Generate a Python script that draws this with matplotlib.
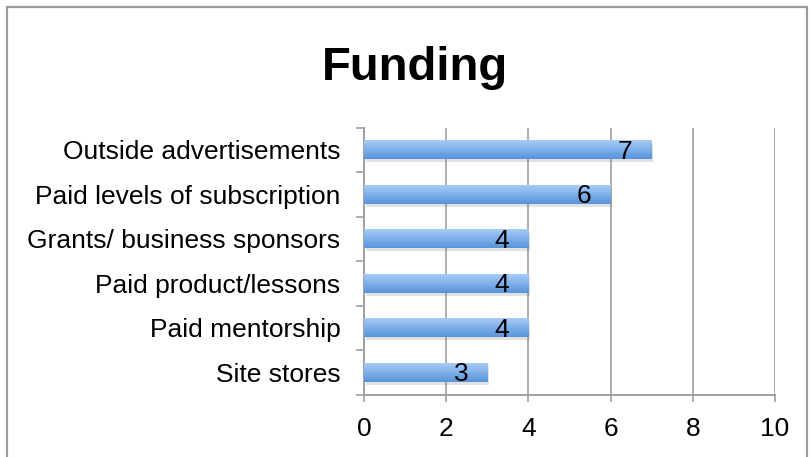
import numpy as np
import matplotlib
matplotlib.use("Agg")
import matplotlib.pyplot as plt
from matplotlib import patheffects as pe
from matplotlib.colors import LinearSegmentedColormap
from matplotlib.patches import Rectangle

categories = ["Outside advertisements", "Paid levels of subscription",
              "Grants/ business sponsors", "Paid product/lessons",
              "Paid mentorship", "Site stores"]
values = [7, 6, 4, 4, 4, 3]
x_ticks = [0, 2, 4, 6, 8, 10]
title = "Funding"

plt.rcParams['font.family'] = ['Liberation Sans', 'DejaVu Sans']

W, H = 810, 457
fig = plt.figure(figsize=(W/100, H/100), dpi=100)
fig.patch.set_facecolor('white')

# outer border
fig.add_artist(Rectangle((6.5/W, -0.05), (807-6.5)/W, 1.05 - 6.5/H,
                         transform=fig.transFigure, fill=False,
                         edgecolor='#9a9a9a', linewidth=1.6))

ax = fig.add_axes([364/W, 1-394.5/H, (775-364)/W, (394.5-127.5)/H])

n = len(categories)
ypos = np.arange(n)[::-1]
grey = '#a0a0a0'

bars = ax.barh(ypos, values, height=0.43, color='#7fb1ea', zorder=3,
               edgecolor='none',
               path_effects=[pe.SimplePatchShadow(offset=(1.2, -2.0), shadow_rgbFace='#777777', alpha=0.22),
                             pe.Normal()])

cmap = LinearSegmentedColormap.from_list('g', ['#5893da', '#abcff9'])
grad = np.linspace(0, 1, 64).reshape(-1, 1)
for b in bars:
    x0, y0 = b.get_x(), b.get_y()
    w, h = b.get_width(), b.get_height()
    im = ax.imshow(grad, cmap=cmap, aspect='auto', origin='lower',
                   extent=[x0, x0 + w, y0, y0 + h], zorder=3.5)
    im.set_clip_path(b)

for b, v in zip(bars, values):
    ax.annotate(str(v), xy=(b.get_x() + b.get_width(), b.get_y() + b.get_height()/2),
                xytext=(-19, -1.5), textcoords='offset points',
                ha='center', va='center', fontsize=19, color='black', zorder=5)

ax.set_xlim(0, 10)
ax.set_ylim(-0.5, n - 0.5)
ax.set_xticks(x_ticks)
ax.set_xticklabels([str(t) for t in x_ticks], fontsize=19)
ax.set_yticks(ypos)
ax.set_yticklabels(categories, fontsize=19)
ax.tick_params(axis='y', length=0, pad=17)
ax.set_yticks(np.arange(-0.5, n, 1.0), minor=True)
ax.tick_params(axis='y', which='minor', length=6, width=1.2, color=grey)
ax.tick_params(axis='x', length=5, width=1.2, color=grey, pad=11.5)

ax.grid(axis='x', color=grey, linewidth=1.2, zorder=0)
ax.set_axisbelow(True)
for s in ['top', 'right']:
    ax.spines[s].set_visible(False)
for s in ['left', 'bottom']:
    ax.spines[s].set_color(grey)
    ax.spines[s].set_linewidth(1.4)

fig.text(415/W, 1-80/H, title, ha='center', va='baseline',
         fontsize=34, fontweight='bold', color='black')

fig.savefig('out.png', dpi=100, facecolor='white')
